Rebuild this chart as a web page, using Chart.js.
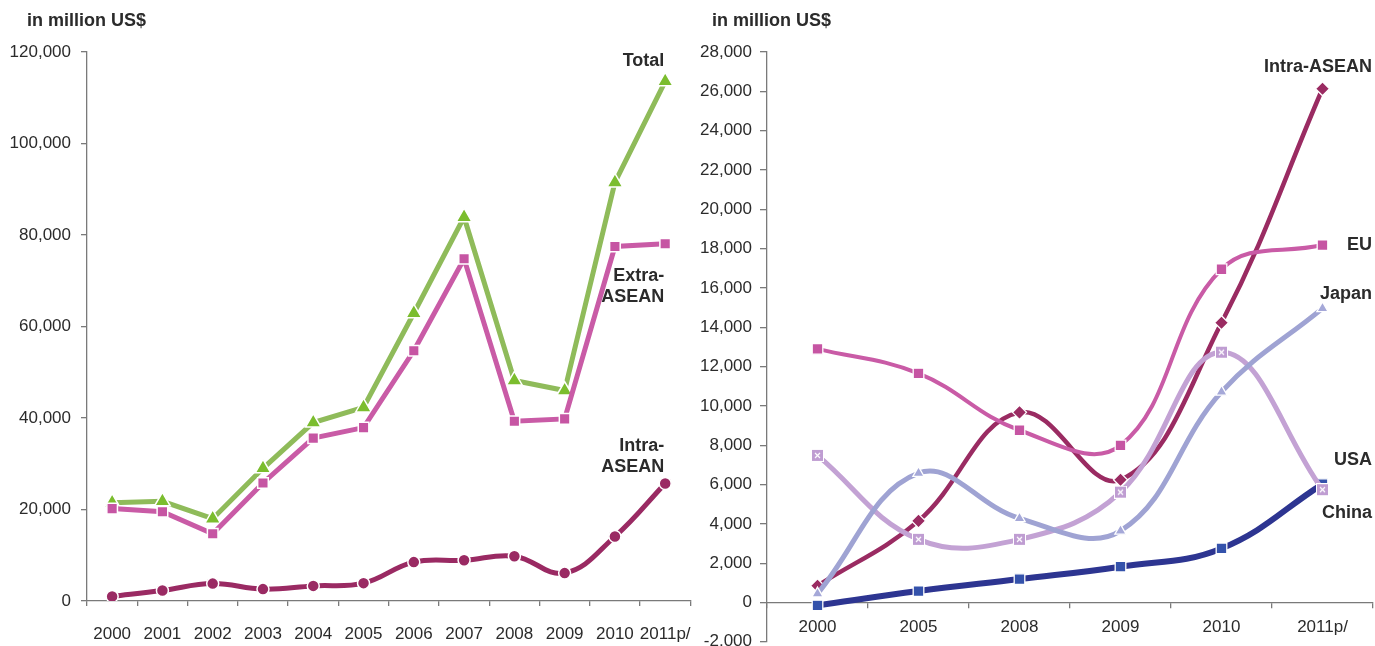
<!DOCTYPE html>
<html>
<head>
<meta charset="utf-8">
<script src="https://cdn.jsdelivr.net/npm/chart.js@4/dist/chart.umd.min.js"></script>
<style>
	html, body { margin: 0; padding: 0; background: #fff; overflow: hidden; }
	#wrapA { position: absolute; left: 0; top: 0; width: 709px; height: 646px; }
	#wrapB { position: absolute; left: 690px; top: 0; width: 694px; height: 660px; }
</style>
</head>
<body>
<div id="wrapA"><canvas id="chart-total"></canvas></div>
<div id="wrapB"><canvas id="chart-partner"></canvas></div>
<script>
// left chart: ASEAN FDI inflows
var yearsA = ['2000', '2001', '2002', '2003', '2004', '2005', '2006', '2007', '2008', '2009', '2010', '2011p/'];
var totalFdi = [21500, 21800, 18000, 29000, 39000, 42300, 62900, 83900, 48200, 46000, 91500, 113600];
var extraAsean = [20200, 19500, 14700, 25800, 35600, 37900, 54700, 74800, 39300, 39800, 77500, 78100];
var intraAseanA = [1000, 2300, 3800, 2600, 3300, 3900, 8500, 8900, 9800, 6100, 14100, 25700];
var ticksA = { min: 0, max: 120000, step: 20000 };

// right chart: by source country
var yearsB = ['2000', '2005', '2008', '2009', '2010', '2011p/'];
var intraAseanB = [850, 4150, 9670, 6240, 14230, 26130];
var euFdi = [12900, 11650, 8760, 7990, 16950, 18180];
var japanFdi = [450, 6580, 4280, 3640, 10710, 14960];
var chinaFdi = [7480, 3210, 3210, 5610, 12730, 5740];
var usaFdi = [-150, 580, 1190, 1820, 2750, 6020];
var ticksB = { min: -2000, max: 28000, step: 2000 };

var fontFam = "'Liberation Sans', Arial, Helvetica, sans-serif";
var axisGrey = '#7a7a7a';
var textCol = '#2b2b2b';

// square with a white x, for China
function crossBox(color) {
	var c = document.createElement('canvas');
	c.width = 13;
	c.height = 13;
	var g = c.getContext('2d');
	g.fillStyle = '#fff';
	g.fillRect(0, 0, 13, 13);
	g.fillStyle = color;
	g.fillRect(1, 1, 11, 11);
	g.strokeStyle = '#fff';
	g.lineWidth = 1.2;
	g.beginPath();
	g.moveTo(4, 4); g.lineTo(9, 9);
	g.moveTo(9, 4); g.lineTo(4, 9);
	g.stroke();
	return c;
}

// unit title and series names drawn as text
var notesPlugin = {
	id: 'notes',
	afterDraw: function(chart, args, opts) {
		var ctx = chart.ctx;
		var area = chart.chartArea;
		var ys = chart.scales.y;
		ctx.save();
		ctx.fillStyle = textCol;
		ctx.font = 'bold 18px ' + fontFam;
		ctx.textBaseline = 'middle';
		ctx.textAlign = 'left';
		ctx.fillText('in million US$', area.left - opts.titleShift, 21);
		ctx.textAlign = 'right';
		opts.items.forEach(function(it) {
			ctx.fillText(it.text, area.right - opts.rightShift, ys.getPixelForValue(it.value));
		});
		ctx.restore();
	}
};

function yAxis(t, width, tickLen, pad) {
	return {
		min: t.min,
		max: t.max,
		afterFit: function(scale) { scale.width = width; },
		border: { display: true, color: axisGrey, width: 1.3 },
		grid: { drawOnChartArea: false, drawTicks: true, tickLength: tickLen, color: axisGrey, lineWidth: 1.3 },
		ticks: {
			stepSize: t.step,
			padding: pad,
			color: textCol,
			font: { family: fontFam, size: 17 },
			callback: function(v) { return v.toLocaleString('en-US'); }
		}
	};
}

new Chart(document.getElementById('chart-total'), {
	type: 'line',
	data: {
		labels: yearsA,
		datasets: [{
			label: 'Intra-ASEAN',
			data: intraAseanA,
			borderColor: '#9a2a63',
			borderWidth: 5,
			tension: 0.4,
			pointStyle: 'circle',
			pointRadius: 6,
			pointBackgroundColor: '#9a2a63',
			pointBorderColor: '#fff',
			pointBorderWidth: 1.5
		}, {
			label: 'Extra-ASEAN',
			data: extraAsean,
			borderColor: '#c95ba6',
			borderWidth: 5,
			tension: 0,
			pointStyle: 'rect',
			pointRadius: 7.5,
			pointBackgroundColor: '#c655a3',
			pointBorderColor: '#fff',
			pointBorderWidth: 1.5
		}, {
			label: 'Total',
			data: totalFdi,
			borderColor: '#8fbb5a',
			borderWidth: 5,
			tension: 0,
			pointStyle: 'triangle',
			pointRadius: 9,
			pointBackgroundColor: '#7bbd2e',
			pointBorderColor: '#fff',
			pointBorderWidth: 1.5
		}]
	},
	options: {
		responsive: true,
		maintainAspectRatio: false,
		animation: false,
		layout: { padding: { top: 52, right: 8, bottom: 0, left: 0 } },
		plugins: {
			legend: { display: false },
			tooltip: { enabled: false },
			notes: {
				titleShift: 60,
				rightShift: 26,
				items: [
					{ text: 'Total', value: 118000 },
					{ text: 'Extra-', value: 71000 },
					{ text: 'ASEAN', value: 66400 },
					{ text: 'Intra-', value: 33900 },
					{ text: 'ASEAN', value: 29300 }
				]
			}
		},
		scales: {
			x: {
				offset: true,
				afterFit: function(scale) { scale.height = 45; },
				border: { display: true, color: axisGrey, width: 1.3 },
				grid: { offset: true, drawOnChartArea: false, drawTicks: true, tickLength: 5, color: axisGrey, lineWidth: 1.3 },
				ticks: { padding: 18, color: textCol, font: { family: fontFam, size: 17 }, maxRotation: 0, autoSkip: false }
			},
			y: yAxis(ticksA, 87, 6, 10)
		}
	},
	plugins: [notesPlugin]
});

new Chart(document.getElementById('chart-partner'), {
	type: 'line',
	data: {
		labels: yearsB,
		datasets: [{
			label: 'Japan',
			data: japanFdi,
			borderColor: '#9fa3d3',
			borderWidth: 5,
			tension: 0.4,
			pointStyle: 'triangle',
			pointRadius: 6.5,
			pointBackgroundColor: '#a5a8d8',
			pointBorderColor: '#fff',
			pointBorderWidth: 1.3
		}, {
			label: 'China',
			data: chinaFdi,
			borderColor: '#c3a2d4',
			borderWidth: 5,
			tension: 0.4,
			pointStyle: crossBox('#bf9dd2'),
			pointRadius: 6
		}, {
			label: 'EU',
			data: euFdi,
			borderColor: '#c95ba6',
			borderWidth: 4,
			tension: 0.4,
			pointStyle: 'rect',
			pointRadius: 7.5,
			pointBackgroundColor: '#c655a3',
			pointBorderColor: '#fff',
			pointBorderWidth: 1.3
		}, {
			label: 'Intra-ASEAN',
			data: intraAseanB,
			borderColor: '#9a2b62',
			borderWidth: 4.5,
			tension: 0.4,
			pointStyle: 'rectRot',
			pointRadius: 7,
			pointBackgroundColor: '#9a2b62',
			pointBorderColor: '#fff',
			pointBorderWidth: 1.3
		}, {
			label: 'USA',
			data: usaFdi,
			borderColor: '#2d3591',
			borderWidth: 6,
			tension: 0.4,
			pointStyle: 'rect',
			pointRadius: 7.5,
			pointBackgroundColor: '#3452ab',
			pointBorderColor: '#fff',
			pointBorderWidth: 1.3
		}]
	},
	options: {
		responsive: true,
		maintainAspectRatio: false,
		animation: false,
		layout: { padding: { top: 52, right: 3, bottom: 0, left: 0 } },
		plugins: {
			legend: { display: false },
			tooltip: { enabled: false },
			notes: {
				titleShift: 55,
				rightShift: 1,
				items: [
					{ text: 'Intra-ASEAN', value: 27220 },
					{ text: 'EU', value: 18190 },
					{ text: 'Japan', value: 15690 },
					{ text: 'USA', value: 7260 },
					{ text: 'China', value: 4570 }
				]
			}
		},
		scales: {
			x: {
				position: { y: 0 },
				offset: true,
				afterFit: function(scale) { scale.height = 0; },
				border: { display: true, color: axisGrey, width: 1.3 },
				grid: { offset: true, drawOnChartArea: false, drawTicks: true, tickLength: 5, color: axisGrey, lineWidth: 1.3 },
				ticks: { padding: 10, color: textCol, font: { family: fontFam, size: 17 }, maxRotation: 0, autoSkip: false }
			},
			y: yAxis(ticksB, 77, 7, 8)
		}
	},
	plugins: [notesPlugin]
});
</script>
</body>
</html>
